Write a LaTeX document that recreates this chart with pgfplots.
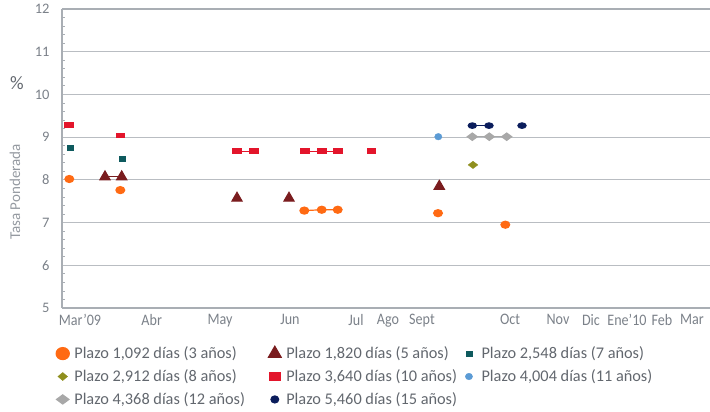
\documentclass[border=0pt]{standalone}
\usepackage{fontspec}
\setmainfont{Carlito}
\newfontfamily\tickfont[FakeStretch=0.88]{Carlito}
\usepackage{pgfplots}
\pgfplotsset{compat=1.18}
\definecolor{corange}{HTML}{FF6A13}
\definecolor{cmaroon}{HTML}{7A1C1E}
\definecolor{cteal}{HTML}{0E5A5E}
\definecolor{colive}{HTML}{8F8F1E}
\definecolor{cred}{HTML}{E3152B}
\definecolor{cblue}{HTML}{5B9BD5}
\definecolor{cgray}{HTML}{A8A8A8}
\definecolor{cnavy}{HTML}{0B1D5C}
\definecolor{axisgray}{HTML}{A9AEB4}
\definecolor{gridgray}{HTML}{B9BDC2}
\definecolor{ticktext}{HTML}{7B8189}
\definecolor{legtext}{HTML}{62676E}
\begin{document}
\begin{tikzpicture}[x=1pt,y=1pt]
\useasboundingbox (0,0) rectangle (710,412);
\begin{axis}[
  at={(62pt,104pt)}, anchor=south west,
  scale only axis, width=648pt, height=299pt,
  xmin=62, xmax=710, ymin=5, ymax=12,
  axis lines*=left,
  axis line style={draw=axisgray, line width=2pt},
  ytick={5,6,...,12},
  ymajorgrids, grid style={draw=gridgray, line width=1pt},
  minor y tick num=4,
  tick align=inside,
  major tick length=0pt, minor tick length=2.5pt,
  minor tick style={draw=axisgray, line width=0.8pt},
  /pgf/number format/assume math mode=true,
  xtick={80,151.7,220,290,356,388,422,510,558,591,627,662,692},
  xticklabels={Mar’09,Abr,May,Jun,Jul,Ago,Sept,Oct,Nov,Dic,Ene’10,Feb,Mar},
  xticklabel style={font=\tickfont\fontsize{16}{16}\selectfont, text=ticktext, yshift=-2.5pt},
  yticklabel style={font=\fontsize{14.5}{14.5}\selectfont, text=ticktext, xshift=-9pt},
  unbounded coords=jump,
  clip=false,
  legend columns=3,
  legend cell align=left,
  legend image code/.code={\path[#1] plot coordinates {(0pt,0pt)};},
  legend style={at={(-0.014,-0.116)}, anchor=north west, draw=none, fill=none,
    font=\fontsize{16.3}{16.3}\selectfont, text=legtext,
    row sep=5.5pt, column sep=0pt, nodes={inner sep=2pt}},
]
% 3 anos
\addplot[color=corange, line width=1.2pt, mark=*, mark size=3.5pt, mark options={xscale=1.25, fill=corange, draw=corange},
  legend image post style={mark size=6pt, mark options={xscale=1.1, fill=corange, draw=corange}}]
 coordinates {(69.3,8.02) (120.3,nan) (120.3,7.76) (200,nan) (304.3,7.28) (321.7,7.30) (337.7,7.30) (400,nan) (438,7.22) (470,nan) (505.3,6.95)};
\addlegendentry{\makebox[195pt][l]{\hspace{3pt}Plazo 1,092 días (3 años)}}
% 5 anos
\addplot[color=cmaroon, line width=1pt, mark=triangle*, mark size=6pt, mark options={fill=cmaroon, draw=cmaroon},
  legend image post style={mark size=7.5pt}]
 coordinates {(105,8.07) (121.7,8.07) (200,nan) (237,7.57) (260,nan) (289,7.57) (400,nan) (439.3,7.85)};
\addlegendentry{\makebox[180pt][l]{\hspace{3pt}Plazo 1,820 días (5 años)}}
% 7 anos
\addplot[color=cteal, mark=square*, mark size=3pt, mark options={yscale=0.85, fill=cteal, draw=cteal}]
 coordinates {(70,8.75) (100,nan) (121.7,8.5)};
\addlegendentry{\hspace{7pt}Plazo 2,548 días (7 años)}
% 8 anos
\addplot[color=colive, mark=diamond*, mark size=3.6pt, mark options={xscale=1.8, fill=colive, draw=colive},
  legend image post style={mark size=4pt, mark options={xscale=1.6, fill=colive, draw=colive}}]
 coordinates {(473,8.35)};
\addlegendentry{\makebox[195pt][l]{\hspace{3pt}Plazo 2,912 días (8 años)}}
% 10 anos
\addplot[color=cred, line width=1.2pt, mark=square*, mark size=2.2pt, mark options={xscale=1.9, fill=cred, draw=cred},
  legend image post style={mark size=4pt, mark options={xscale=1.3, fill=cred, draw=cred}}]
 coordinates {(69,9.28) (100,nan) (120.3,9.035) (200,nan) (237,8.67) (254,8.67) (280,nan) (305,8.67) (322,8.67) (338,8.67) (350,nan) (371.7,8.67)};
\addlegendentry{\makebox[180pt][l]{\hspace{3pt}Plazo 3,640 días (10 años)}}
% 11 anos
\addplot[color=cblue, mark=*, mark size=3.3pt, mark options={xscale=1.1, fill=cblue, draw=cblue}]
 coordinates {(438.3,9.01)};
\addlegendentry{\hspace{7pt}Plazo 4,004 días (11 años)}
% 12 anos
\addplot[color=cgray, line width=1.3pt, mark=diamond*, mark size=3.6pt, mark options={xscale=1.8, fill=cgray, draw=cgray},
  legend image post style={mark size=4.5pt, mark options={xscale=1.8, fill=cgray, draw=cgray}}]
 coordinates {(472.3,9.01) (489.3,9.01) (506.7,9.01)};
\addlegendentry{\makebox[195pt][l]{\hspace{3pt}Plazo 4,368 días (12 años)}}
% 15 anos
\addplot[color=cnavy, line width=1pt, mark=*, mark size=2.8pt, mark options={xscale=1.5, fill=cnavy, draw=cnavy},
  legend image post style={mark size=3.6pt, mark options={xscale=1.1, fill=cnavy, draw=cnavy}}]
 coordinates {(472.3,9.27) (489,9.27) (505,nan) (522,9.27)};
\addlegendentry{\makebox[180pt][l]{\hspace{3pt}Plazo 5,460 días (15 años)}}
\draw[axisgray, line width=2pt] (axis cs:62,12) -- (axis cs:710,12);
\end{axis}
\node[text=ticktext!80!black, font=\fontsize{19}{19}\selectfont] at (17,329) {\%};
\node[rotate=90, text=ticktext!80, font=\fontsize{15}{15}\selectfont] at (15,220) {Tasa Ponderada};
\end{tikzpicture}
\end{document}
